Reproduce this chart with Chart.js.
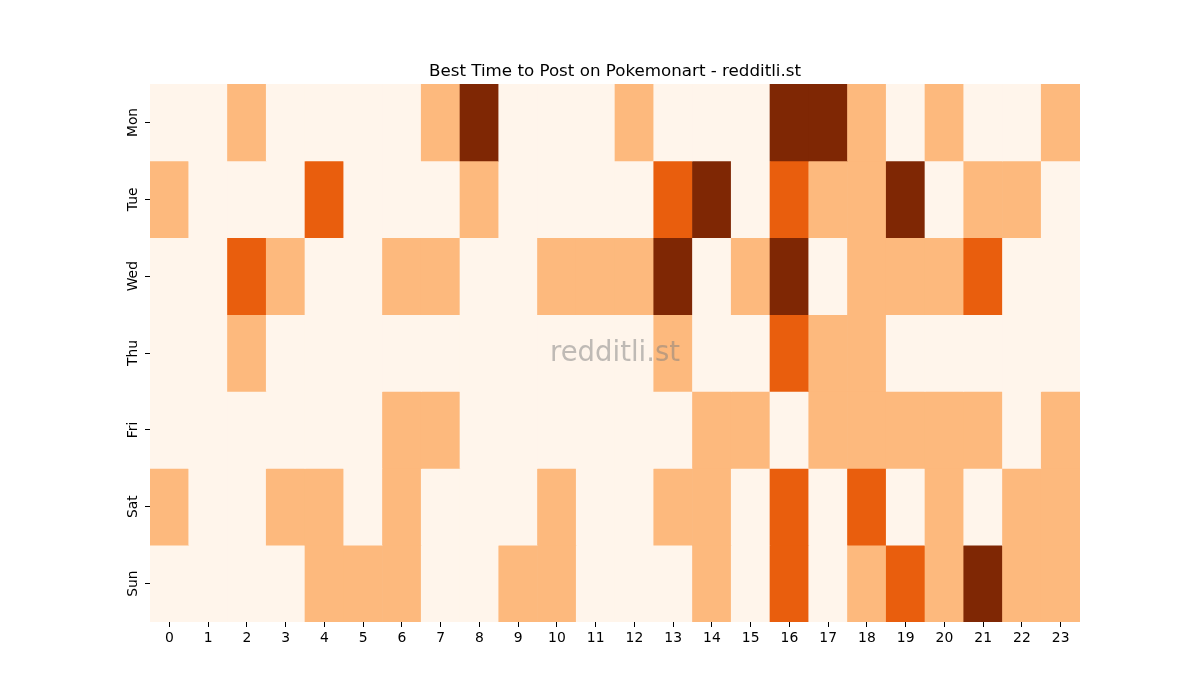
<!DOCTYPE html>
<html>
<head>
<meta charset="utf-8">
<script src="https://cdn.jsdelivr.net/npm/chart.js@4/dist/chart.umd.min.js"></script>
<style>html,body{margin:0;padding:0;background:#fff;}canvas{display:block;}</style>
</head>
<body>
<canvas id="c" width="1200" height="700"></canvas>
<script>
const hours = ['0','1','2','3','4','5','6','7','8','9','10','11','12','13','14','15','16','17','18','19','20','21','22','23'];
const days = ['Mon','Tue','Wed','Thu','Fri','Sat','Sun'];
const mon = [0,0,1,0,0,0,0,1,3,0,0,0,1,0,0,0,3,3,1,0,1,0,0,1];
const tue = [1,0,0,0,2,0,0,0,1,0,0,0,0,2,3,0,2,1,1,3,0,1,1,0];
const wed = [0,0,2,1,0,0,1,1,0,0,1,1,1,3,0,1,3,0,1,1,1,2,0,0];
const thu = [0,0,1,0,0,0,0,0,0,0,0,0,0,1,0,0,2,1,1,0,0,0,0,0];
const fri = [0,0,0,0,0,0,1,1,0,0,0,0,0,0,1,1,0,1,1,1,1,1,0,1];
const sat = [1,0,0,1,1,0,1,0,0,0,1,0,0,1,1,0,2,0,2,0,1,0,1,1];
const sun = [0,0,0,0,1,1,1,0,0,1,1,0,0,0,1,0,2,0,1,2,1,3,1,1];
const rows = [mon, tue, wed, thu, fri, sat, sun];
const palette = ['#fff5eb', '#fdb97d', '#e95e0d', '#7f2704'];

const datasets = rows.map((r, i) => ({
  label: days[i],
  data: r.map(() => 1),
  backgroundColor: r.map(v => palette[v]),
  borderWidth: 0,
  barPercentage: 1,
  categoryPercentage: 1
}));

const watermark = {
  id: 'watermark',
  afterDatasetsDraw(chart) {
    const a = chart.chartArea, ctx = chart.ctx;
    ctx.save();
    ctx.font = '27.5px "DejaVu Sans"';
    ctx.fillStyle = 'rgba(128,128,128,0.5)';
    ctx.textAlign = 'center';
    ctx.textBaseline = 'middle';
    ctx.fillText('redditli.st', (a.left + a.right) / 2, (a.top + a.bottom) / 2 + 1);
    ctx.restore();
  }
};

new Chart(document.getElementById('c'), {
  type: 'bar',
  data: { labels: hours, datasets },
  options: {
    responsive: false,
    animation: false,
    layout: { padding: { left: 100, right: 120, top: 62, bottom: 30 } },
    plugins: {
      legend: { display: false },
      tooltip: { enabled: false },
      title: {
        display: true,
        fullSize: false,
        text: 'Best Time to Post on Pokemonart - redditli.st',
        color: '#000',
        font: { family: 'DejaVu Sans', size: 16.7, weight: 'normal', lineHeight: 1.2 },
        padding: { top: 0, bottom: 2 }
      }
    },
    scales: {
      x: {
        stacked: true,
        offset: true,
        border: { display: false },
        grid: { display: true, offset: false, drawOnChartArea: false, drawTicks: true, tickLength: 5, tickColor: '#000', tickWidth: 1 },
        ticks: { color: '#000', font: { family: 'DejaVu Sans', size: 13.9 }, padding: 3, maxRotation: 0, minRotation: 0, autoSkip: false },
        afterFit(s) { s.height = 48; }
      },
      y: {
        type: 'linear',
        stacked: true,
        min: 0,
        max: 7,
        reverse: true,
        border: { display: false },
        grid: { display: true, drawOnChartArea: false, drawTicks: true, tickLength: 5, tickColor: '#000', tickWidth: 1 },
        afterBuildTicks(s) { s.ticks = days.map((d, i) => ({ value: i + 0.5 })); },
        ticks: {
          color: '#000',
          font: { family: 'DejaVu Sans', size: 13.9 },
          minRotation: 90, maxRotation: 90,
          crossAlign: 'center',
          padding: -4,
          autoSkip: false,
          callback: (v) => days[Math.floor(v)]
        },
        afterFit(s) { s.width = 50; }
      }
    }
  },
  plugins: [watermark]
});
</script>
</body>
</html>
